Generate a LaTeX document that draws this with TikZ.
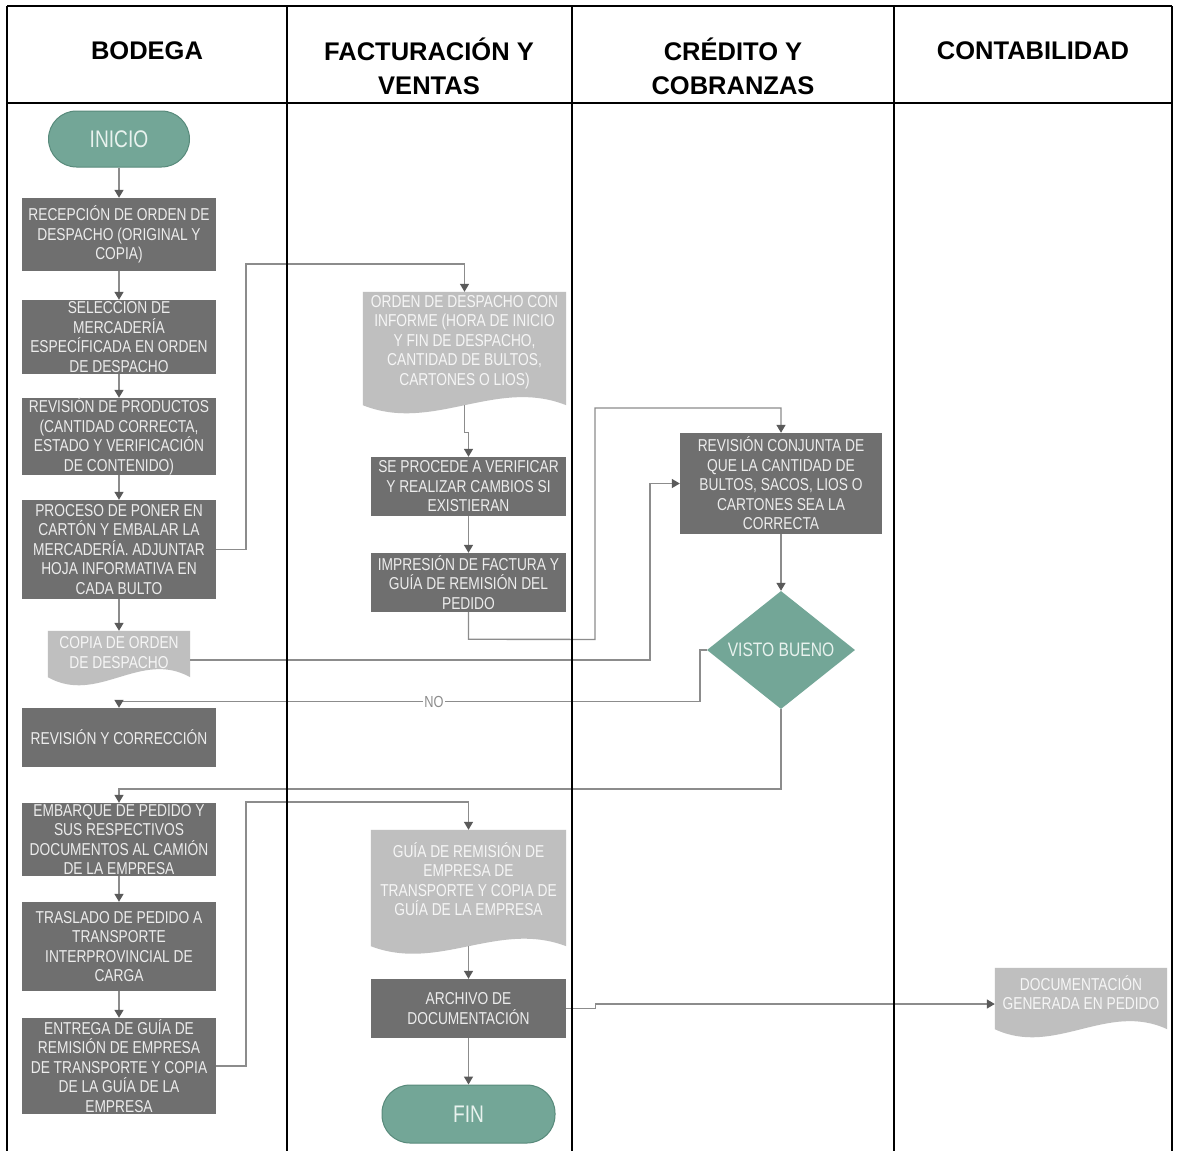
\documentclass[tikz,border=0pt]{standalone}
\usepackage{fontspec}
\setmainfont{Liberation Sans}
\newfontfamily\boxfont[FakeStretch=0.8]{Liberation Sans}
\usetikzlibrary{arrows.meta,shapes.geometric,calc}
\definecolor{boxgray}{RGB}{111,111,111}
\definecolor{boxtext}{RGB}{236,236,236}
\definecolor{docgray}{RGB}{191,191,191}
\definecolor{doctxt}{RGB}{246,246,246}
\definecolor{tealfill}{RGB}{115,166,151}
\definecolor{tealdark}{RGB}{88,138,123}
\definecolor{termtext}{RGB}{232,242,238}
\definecolor{linegray}{RGB}{140,140,140}
\definecolor{tipgray}{RGB}{90,90,90}
\tikzset{
  procbox/.style={rectangle, fill=boxgray, text=boxtext, inner sep=0pt, align=center,
    font=\boxfont\fontsize{17.2}{19.5}\selectfont},
  docbox/.style={rectangle, inner sep=0pt},
  doctext/.style={inner sep=0pt, align=center, text=doctxt,
    font=\boxfont\fontsize{17.2}{19.5}\selectfont},
  term/.style={rectangle, rounded corners=28pt, fill=tealfill, draw=tealdark, line width=1pt,
    minimum height=56, inner sep=0pt, text=termtext,
    font=\boxfont\fontsize{24}{26}\selectfont},
  decis/.style={diamond, fill=tealfill, inner sep=0pt, minimum width=148, minimum height=118,
    aspect=1.25, text=termtext, font=\boxfont\fontsize{19.5}{21}\selectfont},
  conn/.style={draw=linegray, line width=1.4pt,
    -{Triangle[width=9pt,length=8pt,color=tipgray,fill=tipgray]}},
  header/.style={inner sep=0pt, align=center, font=\bfseries\fontsize{25.5}{34}\selectfont},
  tableline/.style={line width=2.5pt, black}
}
\begin{document}
\begin{tikzpicture}[x=1pt,y=-1pt]
\useasboundingbox (0,0) rectangle (1177,1151);
\fill[white] (0,0) rectangle (1177,1151);

% headers
\node[header] (hbod) at (147,51) {BODEGA};
\node[header] (hfac) at (429,66) {FACTURACIÓN Y\\VENTAS};
\node[header] (hcre) at (733,66) {CRÉDITO Y\\COBRANZAS};
\node[header] (hcon) at (1033,51) {CONTABILIDAD};

% column 1
\node[term, minimum width=141] (ini) at (119,139) {INICIO};
\node[procbox, minimum width=194, minimum height=73] (b1) at (119,234.5)
  {RECEPCIÓN DE ORDEN DE\\DESPACHO (ORIGINAL Y\\COPIA)};
\node[procbox, minimum width=194, minimum height=74] (b2) at (119,337)
  {SELECCION DE\\MERCADERÍA\\ESPECÍFICADA EN ORDEN\\DE DESPACHO};
\node[procbox, minimum width=194, minimum height=73] (b3) at (119,436.5)
  {REVISIÓN DE PRODUCTOS\\(CANTIDAD CORRECTA,\\ESTADO Y VERIFICACIÓN\\DE CONTENIDO)};
\node[procbox, minimum width=194, minimum height=99] (b4) at (119,549.5)
  {PROCESO DE PONER EN\\CARTÓN Y EMBALAR LA\\MERCADERÍA. ADJUNTAR\\HOJA INFORMATIVA EN\\CADA BULTO};
\node[docbox, minimum width=142, minimum height=46] (copia) at (119,654) {};
\fill[docgray] (copia.north west) -- (copia.north east) -- (copia.south east)
  .. controls +(-50,-28) and +(50,28) .. (copia.south west) -- cycle;
\node[doctext] (copiat) at (119,652.5) {COPIA DE ORDEN\\DE DESPACHO};
\node[procbox, minimum width=194, minimum height=59] (b5) at (119,737.5)
  {REVISIÓN Y CORRECCIÓN};
\node[procbox, minimum width=194, minimum height=73] (b6) at (119,839.5)
  {EMBARQUE DE PEDIDO Y\\SUS RESPECTIVOS\\DOCUMENTOS AL CAMIÓN\\DE LA EMPRESA};
\node[procbox, minimum width=194, minimum height=89] (b7) at (119,946.5)
  {TRASLADO DE PEDIDO A\\TRANSPORTE\\INTERPROVINCIAL DE\\CARGA};
\node[procbox, minimum width=194, minimum height=96] (b8) at (119,1066)
  {ENTREGA DE GUÍA DE\\REMISIÓN DE EMPRESA\\DE TRANSPORTE Y COPIA\\DE LA GUÍA DE LA\\EMPRESA};

% column 2
\node[docbox, minimum width=203, minimum height=113] (orden) at (464.5,348.5) {};
\fill[docgray] (orden.north west) -- (orden.north east) -- (orden.south east)
  .. controls +(-70,-28) and +(70,28) .. (orden.south west) -- cycle;
\node[doctext] (ordent) at (464.5,342) {ORDEN DE DESPACHO CON\\INFORME (HORA DE INICIO\\Y FIN DE DESPACHO,\\CANTIDAD DE BULTOS,\\CARTONES O LIOS)};
\node[procbox, minimum width=195, minimum height=59] (sep) at (468.5,486.5)
  {SE PROCEDE A VERIFICAR\\Y REALIZAR CAMBIOS SI\\EXISTIERAN};
\node[procbox, minimum width=195, minimum height=59] (imp) at (468.5,582.5)
  {IMPRESIÓN DE FACTURA Y\\GUÍA DE REMISIÓN DEL\\PEDIDO};
\node[docbox, minimum width=195, minimum height=116] (guia) at (468.5,888) {};
\fill[docgray] (guia.north west) -- (guia.north east) -- (guia.south east)
  .. controls +(-68,-26) and +(68,26) .. (guia.south west) -- cycle;
\node[doctext] (guiat) at (468.5,879) {GUÍA DE REMISIÓN DE\\EMPRESA DE\\TRANSPORTE Y COPIA DE\\GUÍA DE LA EMPRESA};
\node[procbox, minimum width=195, minimum height=59] (arch) at (468.5,1008.5)
  {ARCHIVO DE\\DOCUMENTACIÓN};
\node[term, minimum width=173, minimum height=58] (fin) at (468.5,1114) {FIN};

% column 3
\node[procbox, minimum width=202, minimum height=101] (rc) at (781,483.5)
  {REVISIÓN CONJUNTA DE\\QUE LA CANTIDAD DE\\BULTOS, SACOS, LIOS O\\CARTONES SEA LA\\CORRECTA};
\node[decis] (vb) at (781,650) {VISTO BUENO};

% column 4
\node[docbox, minimum width=172, minimum height=61] (docg) at (1081,998.5) {};
\fill[docgray] (docg.north west) -- (docg.north east) -- (docg.south east)
  .. controls +(-60,-28) and +(60,28) .. (docg.south west) -- cycle;
\node[doctext] (docgt) at (1081,992.5) {DOCUMENTACIÓN\\GENERADA EN PEDIDO};

% connectors column 1
\draw[conn] (ini.south) -- (b1.north);
\draw[conn] (b1.south) -- (b2.north);
\draw[conn] (b2.south) -- (b3.north);
\draw[conn] (b3.south) -- (b4.north);
\draw[conn] (b4.south) -- (copia.north);
\draw[conn] (b6.south) -- (b7.north);
\draw[conn] (b7.south) -- (b8.north);

% b4 -> orden
\draw[conn] (b4.east) -- (246,549.5) |- (464.5,264) -- (orden.north);
% orden -> sep
\draw[conn] (orden.south) -- ++(0,27) -| (sep.north);
\draw[conn] (sep.south) -- (imp.north);
% imp -> rc
\draw[conn] (imp.south) -- ++(0,27) -- (595,639.5) |- (781,408) -- (rc.north);
% copia -> rc
\draw[conn] ([yshift=-6pt]copia.east) -- (650,660) |- (rc.west);
% rc -> vb
\draw[conn] (rc.south) -- (vb.north);
% vb -> NO -> b5
\draw[conn] (vb.west) -- ++(-7,0) |- (119,701.5) -- (b5.north);
\node[fill=white, text=linegray, inner sep=1pt, font=\boxfont\fontsize{16}{17}\selectfont] (nolbl) at (434,701.5) {NO};
% vb -> b6
\draw[conn] (vb.south) -- (781,789) -| (b6.north);
% b8 -> guia
\draw[conn] (b8.east) -- (246,1066) |- (468.5,802) -- (guia.north);
\draw[conn] (guia.south) -- (arch.north);
\draw[conn] (arch.south) -- (fin.north);
% arch -> docg
\draw[conn] (arch.east) -- ++(29,0) |- ([yshift=-5.5pt]docg.west);

% table
\draw[tableline] (7,6) -- (1172,6);
\draw[tableline] (7,103) -- (1172,103);
\foreach \xx in {7,287,572,894,1172} {
  \draw[tableline] (\xx,6) -- (\xx,1151);
}
\end{tikzpicture}
\end{document}
